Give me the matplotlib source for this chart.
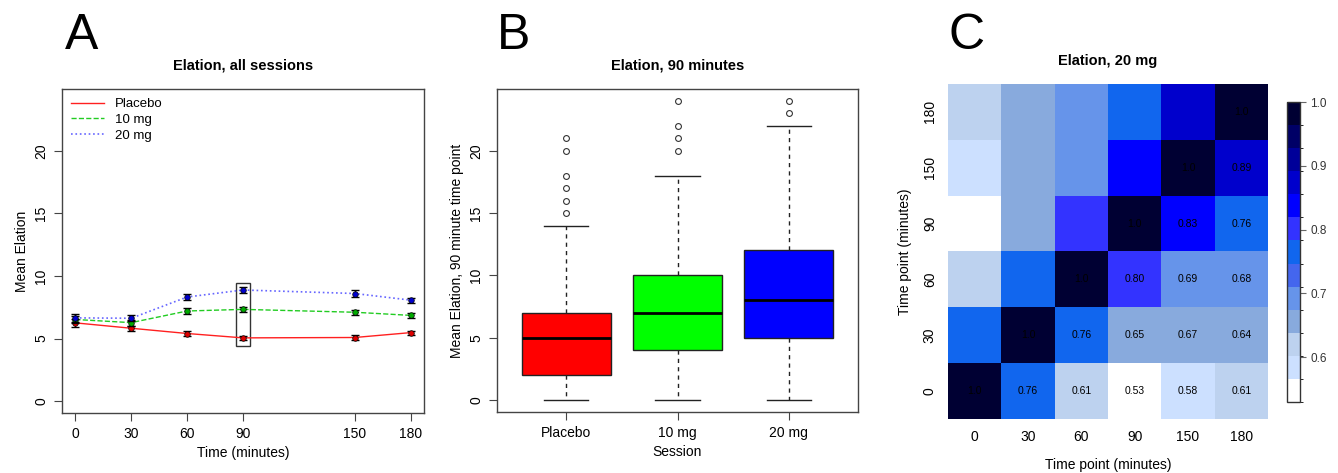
import numpy as np
import matplotlib
matplotlib.use("Agg")
import matplotlib.pyplot as plt
from matplotlib.colors import ListedColormap, BoundaryNorm
from matplotlib.patches import Rectangle

plt.rcParams['font.family'] = ['Liberation Sans', 'DejaVu Sans']

# panel A data
times = [0, 30, 60, 90, 150, 180]
placebo = [6.25, 5.82, 5.4, 5.05, 5.08, 5.47]
mg10 = [6.52, 6.27, 7.2, 7.33, 7.1, 6.85]
mg20 = [6.65, 6.62, 8.32, 8.88, 8.6, 8.07]
err_placebo = [0.3, 0.2, 0.18, 0.17, 0.17, 0.17]
err_10 = [0.3, 0.25, 0.22, 0.22, 0.22, 0.2]
err_20 = [0.3, 0.25, 0.25, 0.25, 0.25, 0.2]

# panel B data (box stats)
sessions = ['Placebo', '10 mg', '20 mg']
whislo = [0, 0, 0]
q1 = [2, 4, 5]
med = [5, 7, 8]
q3 = [7, 10, 12]
whishi = [14, 18, 22]
outliers = [[15, 16, 17, 18, 20, 21], [20, 21, 22, 24], [23, 24]]
box_colors = ['#ff0000', '#00ff00', '#0000ff']

# panel C data (correlation matrix, row = y time point)
tp_labels = ['0', '30', '60', '90', '150', '180']
corr = [
    [1.0, 0.76, 0.61, 0.53, 0.58, 0.61],
    [0.76, 1.0, 0.76, 0.65, 0.67, 0.64],
    [0.61, 0.76, 1.0, 0.80, 0.69, 0.68],
    [0.53, 0.65, 0.80, 1.0, 0.83, 0.76],
    [0.58, 0.67, 0.69, 0.83, 1.0, 0.89],
    [0.61, 0.64, 0.68, 0.76, 0.89, 1.0],
]
level_colors = ['#ffffff', '#cce0ff', '#bdd2ef', '#88aadd', '#6694ea',
                '#4466ee', '#1166ee', '#3333ff', '#0000ff', '#0000cc',
                '#000099', '#000066', '#000033']

W, H = 1338, 473
fig = plt.figure(figsize=(W / 100, H / 100), dpi=100)
fig.patch.set_facecolor('white')


def rect(l, t, r, b):
    return [l / W, 1 - b / H, (r - l) / W, (b - t) / H]


def style_r(ax):
    for s in ax.spines.values():
        s.set_color('#444444')
        s.set_linewidth(1)
    ax.tick_params(direction='out', length=6, width=0.8, color='#444444',
                   labelsize=10, pad=4)
    for lab in ax.get_yticklabels():
        lab.set_rotation(90)
        lab.set_va('center')


# ---- A ----
axA = fig.add_axes(rect(62, 89, 424, 413))
axA.plot(times, placebo, '-', color='#ff2020', lw=1, label='Placebo')
axA.plot(times, mg10, '--', color='#22cc22', lw=1, label='10 mg')
axA.plot(times, mg20, ':', color='#6666ff', lw=1.2, label='20 mg')
for vals, errs, c in [(placebo, err_placebo, '#dd0000'), (mg10, err_10, '#00aa00'),
                      (mg20, err_20, '#0000cc')]:
    axA.errorbar(times, vals, yerr=errs, fmt='none', ecolor='black', elinewidth=1,
                 capsize=3, capthick=1)
    axA.plot(times, vals, 'o', ms=4, mfc=c, mec='black', mew=0.5)
axA.add_patch(Rectangle((86.2, 4.42), 7.6, 5.06, fill=False, ec='#333333', lw=1))
axA.set_xlim(-7.2, 187.2)
axA.set_ylim(-0.96, 24.96)
axA.set_xticks(times)
axA.set_yticks([0, 5, 10, 15, 20])
axA.set_xlabel('Time (minutes)', fontsize=10)
axA.set_ylabel('Mean Elation', fontsize=10)
axA.set_title('Elation, all sessions', fontsize=10.5, fontweight='bold', pad=14)
axA.legend(loc='upper left', frameon=False, fontsize=9.5, handlelength=2.5,
           borderaxespad=0.3, labelspacing=0.25)
style_r(axA)
fig.text(65 / W, 1 - 49 / H, 'A', fontsize=36, ha='left', va='baseline')

# ---- B ----
axB = fig.add_axes(rect(497, 89, 858, 412))
stats = []
for i in range(3):
    stats.append(dict(whislo=whislo[i], q1=q1[i], med=med[i], q3=q3[i],
                      whishi=whishi[i], fliers=outliers[i], label=sessions[i]))
bp = axB.bxp(stats, positions=[1, 2, 3], widths=0.8, patch_artist=True,
             boxprops=dict(ec='#222222', lw=1),
             medianprops=dict(color='black', lw=2),
             whiskerprops=dict(color='#222222', lw=1, ls=(0, (3, 3))),
             capprops=dict(color='#222222', lw=1),
             capwidths=0.4,
             flierprops=dict(marker='o', mfc='none', mec='#333333', ms=4.2, mew=0.8))
for patch, c in zip(bp['boxes'], box_colors):
    patch.set_facecolor(c)
axB.set_xlim(0.38, 3.62)
axB.set_ylim(-0.96, 24.96)
axB.set_yticks([0, 5, 10, 15, 20])
axB.set_xlabel('Session', fontsize=10)
axB.set_ylabel('Mean Elation, 90 minute time point', fontsize=10)
axB.set_title('Elation, 90 minutes', fontsize=10.5, fontweight='bold', pad=14)
style_r(axB)
fig.text(497 / W, 1 - 49 / H, 'B', fontsize=36, ha='left', va='baseline')

# ---- C ----
axC = fig.add_axes(rect(948, 84, 1268, 419))
cmap = ListedColormap(level_colors)
bounds = np.linspace(0.53, 1.0, len(level_colors) + 1)
norm = BoundaryNorm(bounds, cmap.N)
m = np.array(corr)
mesh = axC.pcolormesh(np.arange(7), np.arange(7), m, cmap=cmap, norm=norm)
for r in range(6):
    for c in range(6):
        if c >= r:
            v = m[r, c]
            txt = '1.0' if v == 1.0 else '%.2f' % v
            axC.text(c + 0.5, r + 0.5, txt, ha='center', va='center', fontsize=7.5,
                     color='black')
axC.set_xticks(np.arange(6) + 0.5)
axC.set_yticks(np.arange(6) + 0.5)
axC.set_xticklabels(tp_labels)
axC.set_yticklabels(tp_labels)
for s in axC.spines.values():
    s.set_visible(False)
axC.tick_params(length=0, labelsize=10, pad=8)
for lab in axC.get_yticklabels():
    lab.set_rotation(90)
    lab.set_va('center')
axC.set_xlabel('Time point (minutes)', fontsize=10, labelpad=10)
axC.set_ylabel('Time point (minutes)', fontsize=10, labelpad=8)
axC.set_title('Elation, 20 mg', fontsize=10.5, fontweight='bold', pad=14)
fig.text(948 / W, 1 - 49 / H, 'C', fontsize=36, ha='left', va='baseline')

cax = fig.add_axes(rect(1287, 102, 1300, 402))
cb = fig.colorbar(mesh, cax=cax, ticks=[0.6, 0.7, 0.8, 0.9, 1.0], format='%.1f')
cb.outline.set_edgecolor('#333333')
cb.outline.set_linewidth(1)
cax.tick_params(length=4, width=0.8, color='#666666', labelsize=8.5,
                labelcolor='#333333')

fig.savefig('out.png', dpi=100, facecolor='white')
